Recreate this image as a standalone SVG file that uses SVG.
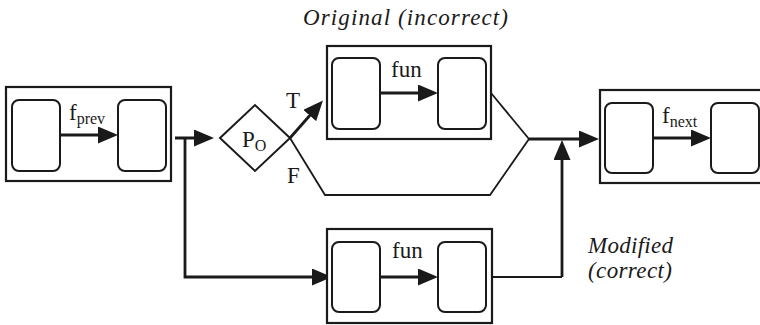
<svg xmlns="http://www.w3.org/2000/svg" width="760" height="325" viewBox="0 0 760 325">
  <style>
    .outer { fill: #fff; stroke: #1a1a1a; stroke-width: 2.2; }
    .inner { fill: #fff; stroke: #1a1a1a; stroke-width: 2; }
    .thin { fill: none; stroke: #1a1a1a; stroke-width: 1.8; }
    .thick { fill: none; stroke: #1a1a1a; stroke-width: 2.8; }
    .lbl { font-family: "Liberation Serif", "Times New Roman", serif; font-size: 23px; fill: #1a1a1a; }
    .sub { font-size: 16px; }
    .cap { font-family: "Liberation Serif", "Times New Roman", serif; font-style: italic; font-size: 23px; fill: #1a1a1a; }
  </style>
  <defs>
    <marker id="head" viewBox="0 0 20 17" refX="14" refY="8.5" markerWidth="20" markerHeight="17" orient="auto" markerUnits="userSpaceOnUse">
      <path d="M0,0 L20,8.5 L0,17 z" fill="#1a1a1a"/>
    </marker>
  </defs>

  <rect width="760" height="325" fill="#fff"/>

  <!-- captions -->
  <text class="cap" x="303" y="25" textLength="205" lengthAdjust="spacing">Original (incorrect)</text>
  <text class="cap" x="588" y="253" textLength="85" lengthAdjust="spacing">Modified</text>
  <text class="cap" x="588" y="278" textLength="84" lengthAdjust="spacing">(correct)</text>

  <!-- connectors -->
  <g id="connectors">
    <path class="thick" d="M175,138 H208" marker-end="url(#head)"/>
    <path class="thick" d="M185,138 V277 H326" marker-end="url(#head)"/>
    <path class="thick" d="M290,138 L319,105" marker-end="url(#head)"/>
    <path class="thin" d="M290,138 L325,195 H490 L529,139"/>
    <path class="thin" d="M491,93 L529,139"/>
    <path class="thick" d="M529,139 H593" marker-end="url(#head)"/>
    <path class="thin" d="M492,277 H562"/>
    <path class="thick" d="M562,277 V146" marker-end="url(#head)"/>
    <text class="lbl" x="286" y="108">T</text>
    <text class="lbl" x="287" y="183">F</text>
  </g>

  <!-- previous function -->
  <g id="node-prev">
    <rect class="outer" x="6" y="87" width="165" height="94"/>
    <rect class="inner" x="12" y="100" width="48" height="71" rx="7"/>
    <rect class="inner" x="118" y="100" width="48" height="71" rx="7"/>
    <path class="thick" d="M60,135 H112" marker-end="url(#head)"/>
    <text class="lbl" x="69" y="120">f<tspan class="sub" dy="4">prev</tspan></text>
  </g>

  <!-- predicate -->
  <g id="node-pred">
    <path d="M220,138 L255,105 L290,138 L255,171 z" fill="#fff" stroke="#1a1a1a" stroke-width="2"/>
    <text class="lbl" x="242" y="147">P<tspan class="sub" dy="4">O</tspan></text>
  </g>

  <!-- original call -->
  <g id="node-orig">
    <rect class="outer" x="327" y="46" width="164" height="93"/>
    <rect class="inner" x="332" y="58" width="48" height="71" rx="7"/>
    <rect class="inner" x="438" y="58" width="48" height="71" rx="7"/>
    <path class="thick" d="M380,93 H432" marker-end="url(#head)"/>
    <text class="lbl" x="391" y="77">fun</text>
  </g>

  <!-- modified call -->
  <g id="node-mod">
    <rect class="outer" x="327" y="229" width="165" height="94"/>
    <rect class="inner" x="332" y="242" width="48" height="70" rx="7"/>
    <rect class="inner" x="438" y="242" width="48" height="70" rx="7"/>
    <path class="thick" d="M380,277 H432" marker-end="url(#head)"/>
    <text class="lbl" x="392" y="258">fun</text>
  </g>

  <!-- next function -->
  <g id="node-next">
    <rect class="outer" x="600" y="90" width="180" height="93"/>
    <rect class="inner" x="605" y="103" width="48" height="70" rx="7"/>
    <rect class="inner" x="711" y="103" width="48" height="70" rx="7"/>
    <path class="thick" d="M653,138 H705" marker-end="url(#head)"/>
    <text class="lbl" x="662" y="123">f<tspan class="sub" dy="4">next</tspan></text>
  </g>
</svg>
